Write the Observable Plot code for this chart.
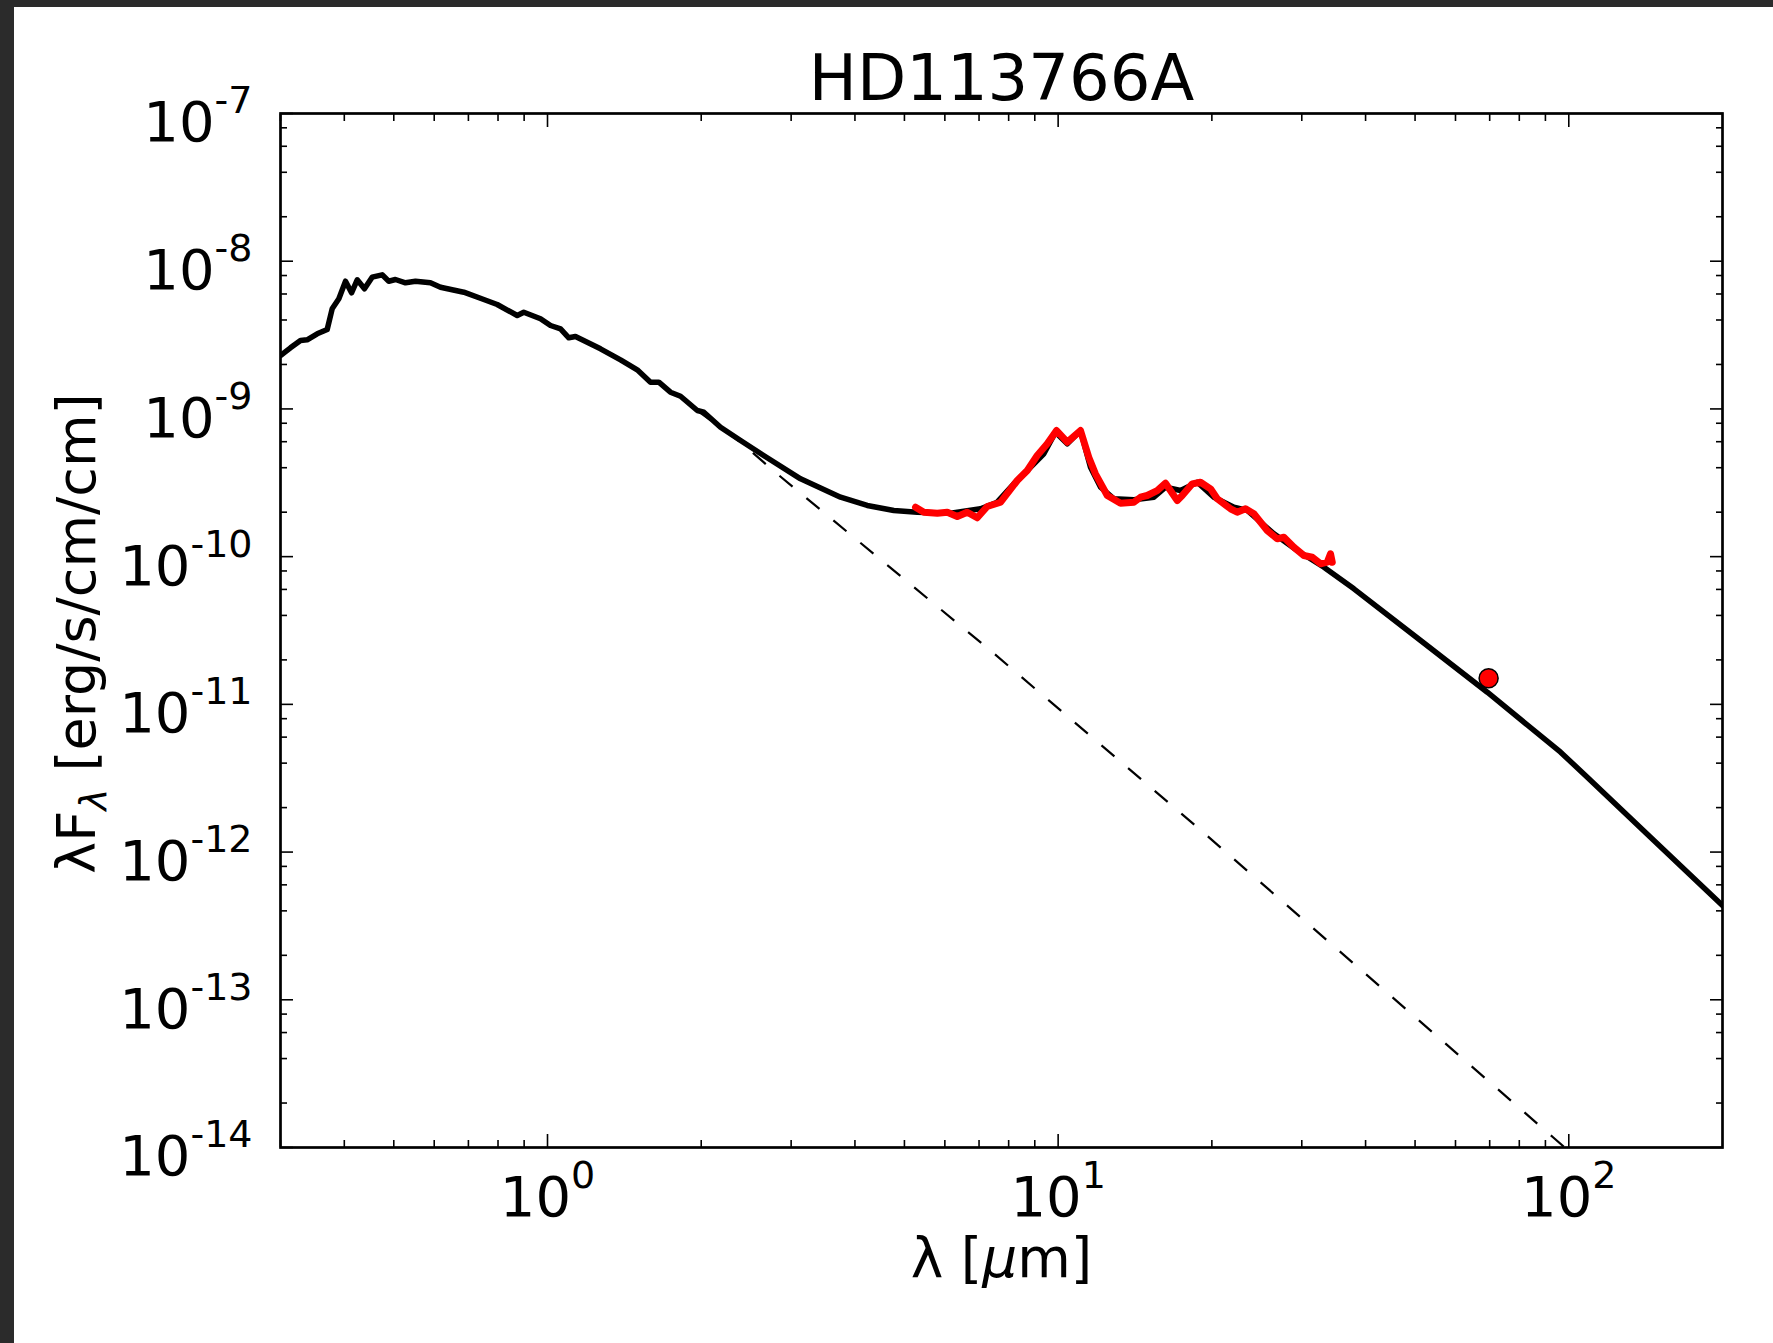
<!DOCTYPE html>
<html><head><meta charset="utf-8">
<script src="https://cdn.jsdelivr.net/npm/d3@7"></script>
<script src="https://cdn.jsdelivr.net/npm/@observablehq/plot@0.6"></script>
<style>
html,body{margin:0;padding:0;background:#fff;overflow:hidden}
#chart{position:absolute;left:0;top:0}
#chart svg{display:block}
.edge{position:absolute;background:#2b2b2b;z-index:5}
</style></head><body>
<div id="chart"></div>
<div class="edge" style="left:0;top:0;width:1773px;height:7px"></div>
<div class="edge" style="left:0;top:0;width:14px;height:1343px"></div>
<script>
// ---- data (wavelength in micron, lambda*F_lambda in erg/s/cm/cm) ----
const modelLambda = [0.300, 0.3138, 0.3283, 0.3383, 0.3540, 0.3703, 0.3787, 0.3903, 0.4022, 0.4133, 0.4240, 0.4381, 0.4535, 0.4745, 0.4888, 0.5038, 0.5271, 0.5514, 0.5899, 0.6172, 0.6857, 0.7502, 0.7971, 0.8724, 0.8986, 0.9689, 1.0137, 1.0605, 1.1008, 1.1345, 1.2698, 1.3900, 1.4988, 1.591, 1.652, 1.741, 1.822, 1.965, 2.024, 2.182, 2.388, 2.693, 3.130, 3.749, 4.228, 4.767, 5.297, 6.155, 7.047, 7.598, 8.188, 8.830, 9.376, 9.883, 10.42, 11.06, 11.57, 12.11, 12.86, 14.07, 15.40, 16.23, 17.37, 18.73, 20.18, 22.09, 23.47, 26.46, 29.39, 33.15, 37.95, 51.27, 69.25, 96.38, 108.7, 146.8, 200];
const modelFlux = [2.300e-9, 2.593e-9, 2.905e-9, 2.938e-9, 3.226e-9, 3.449e-9, 4.762e-9, 5.566e-9, 7.322e-9, 6.111e-9, 7.483e-9, 6.503e-9, 7.795e-9, 8.091e-9, 7.322e-9, 7.519e-9, 7.141e-9, 7.322e-9, 7.141e-9, 6.668e-9, 6.169e-9, 5.506e-9, 5.091e-9, 4.290e-9, 4.517e-9, 4.075e-9, 3.671e-9, 3.486e-9, 3.030e-9, 3.092e-9, 2.553e-9, 2.150e-9, 1.840e-9, 1.517e-9, 1.517e-9, 1.298e-9, 1.219e-9, 9.757e-10, 9.502e-10, 7.520e-10, 6.112e-10, 4.668e-10, 3.365e-10, 2.526e-10, 2.220e-10, 2.052e-10, 1.999e-10, 1.968e-10, 2.108e-10, 2.336e-10, 3.112e-10, 4.032e-10, 4.969e-10, 6.957e-10, 5.806e-10, 7.143e-10, 4.032e-10, 2.952e-10, 2.463e-10, 2.425e-10, 2.526e-10, 2.952e-10, 2.803e-10, 3.191e-10, 2.526e-10, 2.161e-10, 2.052e-10, 1.427e-10, 1.100e-10, 8.481e-11, 6.056e-11, 2.705e-11, 1.208e-11, 4.742e-12, 3.213e-12, 1.197e-12, 4.347e-13];

const irsLambda = [5.257, 5.458, 5.799, 6.066, 6.346, 6.637, 6.943, 7.263, 7.714, 8.317, 8.701, 9.100, 9.521, 9.929, 10.42, 11.06, 11.48, 11.83, 12.48, 13.25, 14.07, 14.50, 14.94, 15.63, 16.23, 16.73, 17.11, 17.50, 18.31, 19.00, 19.88, 20.49, 21.76, 22.42, 23.28, 24.17, 25.67, 26.86, 27.67, 28.95, 30.28, 31.45, 32.65, 33.65, 34.15, 34.42];
const irsFlux = [2.161e-10, 1.999e-10, 1.968e-10, 1.999e-10, 1.869e-10, 1.999e-10, 1.832e-10, 2.185e-10, 2.336e-10, 3.277e-10, 3.829e-10, 4.839e-10, 5.806e-10, 7.143e-10, 5.952e-10, 7.143e-10, 4.712e-10, 3.637e-10, 2.594e-10, 2.300e-10, 2.336e-10, 2.526e-10, 2.594e-10, 2.803e-10, 3.141e-10, 2.688e-10, 2.399e-10, 2.594e-10, 3.112e-10, 3.191e-10, 2.879e-10, 2.463e-10, 2.108e-10, 1.999e-10, 2.108e-10, 1.950e-10, 1.503e-10, 1.320e-10, 1.354e-10, 1.158e-10, 1.018e-10, 9.913e-11, 8.944e-11, 9.170e-11, 1.045e-10, 9.170e-11];

const photLambda = [1.965, 2.388, 2.796, 7.396, 18.73, 93.26, 120];
const photFlux = [9.757e-10, 5.95e-10, 3.712e-10, 2.290e-11, 1.473e-12, 1.168e-14, 5.48e-15];

const pacsLambda = [69.66];
const pacsFlux = [1.503e-11];

const xMajorTicks = [1, 10, 100];
const xTickLabels = ["10^0", "10^1", "10^2"];
const xMinorTicks = [0.3, 0.4, 0.5, 0.6, 0.7, 0.8, 0.9, 2, 3, 4, 5, 6, 7, 8, 9, 20, 30, 40, 50, 60, 70, 80, 90];
const yMajorTicks = [1e-14, 1e-13, 1e-12, 1e-11, 1e-10, 1e-9, 1e-8, 1e-7];
const yTickLabels = ["10^-14", "10^-13", "10^-12", "10^-11", "10^-10", "10^-9", "10^-8", "10^-7"];
const yMinorTicks = [2e-14, 4e-14, 6e-14, 8e-14, 2e-13, 4e-13, 6e-13, 8e-13, 2e-12, 4e-12, 6e-12, 8e-12, 2e-11, 4e-11, 6e-11, 8e-11, 2e-10, 4e-10, 6e-10, 8e-10, 2e-9, 4e-9, 6e-9, 8e-9, 2e-8, 4e-8, 6e-8, 8e-8];

const titleText = "HD113766A";
const xLabelText = "λ [μm]";
const yLabelText = "λF_λ [erg/s/cm/cm]";

// ---- tables ----
const model = modelLambda.map((l, i) => ({l, f: modelFlux[i]}));
const irs = irsLambda.map((l, i) => ({l, f: irsFlux[i]}));
const phot = photLambda.map((l, i) => ({l, f: photFlux[i]}));
const pacs = pacsLambda.map((l, i) => ({l, f: pacsFlux[i]}));

const tk = {stroke: "black", strokeWidth: 1.6, fill: "none", label: null};

const svg = Plot.plot({
  width: 1773, height: 1343,
  marginLeft: 280, marginRight: 51, marginTop: 113, marginBottom: 196,
  style: {background: "transparent", fontFamily: "'DejaVu Sans', sans-serif", color: "black", overflow: "visible"},
  x: {type: "log", domain: [0.3, 200]},
  y: {type: "log", domain: [1e-14, 1e-7]},
  marks: [
    // inward tick marks on all four sides
    Plot.axisX({...tk, ticks: xMinorTicks, anchor: "bottom", tickSize: 7, insetBottom: 7}),
    Plot.axisX({...tk, ticks: xMinorTicks, anchor: "top", tickSize: 7, insetTop: 7}),
    Plot.axisX({...tk, ticks: xMajorTicks, anchor: "bottom", tickSize: 13, insetBottom: 13}),
    Plot.axisX({...tk, ticks: xMajorTicks, anchor: "top", tickSize: 13, insetTop: 13}),
    Plot.axisY({...tk, ticks: yMinorTicks, anchor: "left", tickSize: 7, insetLeft: 7}),
    Plot.axisY({...tk, ticks: yMinorTicks, anchor: "right", tickSize: 7, insetRight: 7}),
    Plot.axisY({...tk, ticks: yMajorTicks, anchor: "left", tickSize: 13, insetLeft: 13}),
    Plot.axisY({...tk, ticks: yMajorTicks, anchor: "right", tickSize: 13, insetRight: 13}),
    // tick labels
    Plot.axisX({ticks: xMajorTicks, anchor: "bottom", tickSize: 0, tickPadding: 29, fontSize: 56, fill: "black",
      tickFormat: d => xTickLabels[xMajorTicks.indexOf(d)], label: null}),
    Plot.axisY({ticks: yMajorTicks, anchor: "left", tickSize: 0, tickPadding: 28, fontSize: 56, fill: "black", dy: 10,
      tickFormat: d => yTickLabels[yMajorTicks.indexOf(d)], label: null}),
    // curves
    Plot.line(phot, {x: "l", y: "f", stroke: "black", strokeWidth: 2.2, strokeDasharray: "17,18", strokeLinecap: "butt", clip: true}),
    Plot.line(model, {x: "l", y: "f", stroke: "black", strokeWidth: 5.5, clip: true}),
    Plot.line(irs, {x: "l", y: "f", stroke: "#ff0000", strokeWidth: 7}),
    Plot.dot(pacs, {x: "l", y: "f", r: 9.5, fill: "#ff0000", stroke: "black", strokeWidth: 1.5}),
    Plot.frame({stroke: "black", strokeWidth: 2.7}),
    // title and axis labels
    Plot.text([titleText], {text: d => d, frameAnchor: "top", dy: -13.5, lineAnchor: "bottom", fontSize: 64, fill: "black"}),
    Plot.text([xLabelText], {text: d => d, frameAnchor: "bottom", dy: 129, lineAnchor: "bottom", fontSize: 55, fill: "black"}),
    Plot.text([yLabelText], {text: d => d, frameAnchor: "left", textAnchor: "middle", dx: -185.5, dy: 3, rotate: -90, lineAnchor: "bottom", fontSize: 54, fill: "black"})
  ]
});

// mathtext-like formatting: superscripts / subscripts / italics
const NS = "http://www.w3.org/2000/svg";
function ts(parent, txt, attrs = {}) {
  const t = document.createElementNS(NS, "tspan");
  for (const k in attrs) t.setAttribute(k, attrs[k]);
  t.textContent = txt;
  parent.appendChild(t);
  return t;
}
svg.querySelectorAll("text").forEach(t => {
  const s = t.textContent;
  const m = s.match(/^10\^(-?\d+)$/);
  if (m) {
    t.textContent = "";
    ts(t, "10");
    ts(t, m[1], {dy: -28, "font-size": 38});
  } else if (s === xLabelText) {
    t.textContent = "";
    ts(t, "λ [");
    ts(t, "μ", {"font-style": "italic"});
    ts(t, "m]");
  } else if (s === yLabelText) {
    t.textContent = "";
    ts(t, "λF");
    ts(t, "λ", {dy: 11, "font-size": 37, "font-style": "italic"});
    ts(t, " [erg/s/cm/cm]", {dy: -11});
  }
});

document.getElementById("chart").appendChild(svg);
</script></body></html>
